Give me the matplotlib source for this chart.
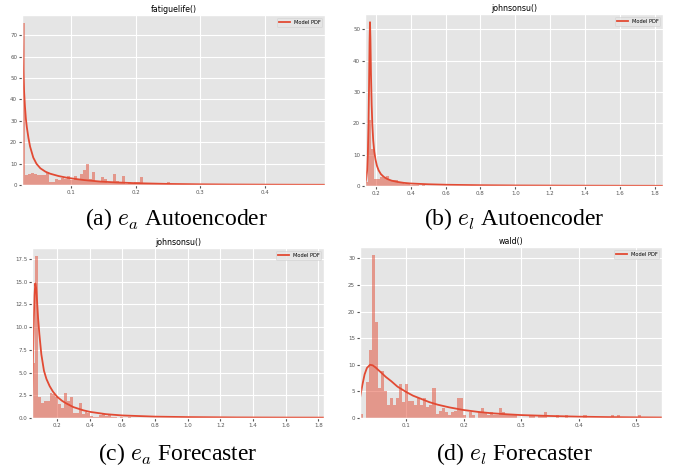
import matplotlib
matplotlib.use('Agg')
import matplotlib.pyplot as plt
import numpy as np

# ---- (a) e_a autoencoder : fatiguelife fit ----
a_range = (0.0235, 0.493)
a_hist = [75.7, 4.5, 5.2, 5.6, 5.2, 4.6, 4.5, 4.5, 6.3, 1.5,
          1.5, 3.0, 2.5, 3.5, 2.6, 4.3, 2.5, 4.2, 2.5, 5.2,
          7.0, 10.0, 3.0, 6.3, 1.2, 1.5, 3.8, 3.0, 1.0, 0.8,
          5.0, 2.0, 1.3, 4.2, 0.5, 1.3, 0.8, 1.3, 1.3, 3.7,
          0.3, 0.4, 0.5, 0.3, 0.6, 0.5, 0.8, 0.5, 1.2, 0.6,
          0.3, 0.4, 0.3, 0.2, 0.3, 0.2, 0.0, 0.3, 0.2, 0.3,
          0.0, 0.0, 0.2, 0.0, 0.0, 0.0, 0.0, 0.2, 0.0, 0.0,
          0.0, 0.0, 0.0, 0.0, 0.0, 0.0, 0.0, 0.0, 0.0, 0.0,
          0.0, 0.2, 0.0, 0.0, 0.0, 0.0, 0.0, 0.0, 0.0, 0.0,
          0.0, 0.0, 0.0, 0.0, 0.0, 0.0, 0.0, 0.0, 0.0, 0.2]
a_pdf_x = [0.0235, 0.0245, 0.0255, 0.0265, 0.028, 0.0295, 0.031, 0.0335, 0.036,
           0.041, 0.046, 0.052, 0.06, 0.067, 0.08, 0.093, 0.107, 0.12, 0.145,
           0.17, 0.2, 0.25, 0.3, 0.35, 0.4, 0.45, 0.493]
a_pdf_y = [72, 60, 51, 45, 37, 31, 27, 22, 18,
           12.8, 9.9, 7.8, 6.2, 5.3, 4.2, 3.4, 2.8, 2.3, 1.6,
           1.2, 0.85, 0.5, 0.32, 0.22, 0.16, 0.12, 0.1]

# ---- (b) e_l autoencoder : johnsonsu fit ----
b_range = (0.1368, 1.848)
b_hist = [1.2, 21.0, 11.8, 2.3, 2.3, 3.0, 2.4, 3.3, 1.9, 1.9,
          2.0, 0.8, 0.8, 0.6, 0.6, 0.4, 0.25, 0.2, 0.15, 0.2,
          0.1, 0.1, 0.15, 0.1, 0.05, 0.1, 0.05, 0.05, 0.0, 0.05,
          0.05, 0.0, 0.05, 0.0, 0.05, 0.0, 0.0, 0.05, 0.0, 0.0,
          0.05, 0.0, 0.0, 0.0, 0.05, 0.0, 0.0, 0.0, 0.0, 0.05,
          0.0, 0.0, 0.0, 0.05, 0.0, 0.0, 0.0, 0.0, 0.0, 0.0,
          0.05, 0.0, 0.0, 0.0, 0.0, 0.0, 0.0, 0.0, 0.05, 0.0,
          0.0, 0.0, 0.0, 0.0, 0.0, 0.0, 0.0, 0.0, 0.0, 0.0,
          0.0, 0.0, 0.05, 0.0, 0.0, 0.0, 0.0, 0.0, 0.0, 0.0,
          0.0, 0.0, 0.0, 0.0, 0.0, 0.0, 0.0, 0.0, 0.0, 0.05]
b_pdf_x = [0.1368, 0.143, 0.149, 0.153, 0.157, 0.160, 0.163, 0.1655, 0.168,
           0.171, 0.175, 0.179, 0.184, 0.19, 0.197, 0.205, 0.215, 0.228, 0.245,
           0.266, 0.29, 0.324, 0.36, 0.4, 0.5, 0.6, 0.8, 1.0, 1.3, 1.6, 1.848]
b_pdf_y = [0.5, 2, 5, 10, 20, 32, 46, 52.3, 47,
           36, 26, 19.5, 14.5, 11, 8.5, 6.5, 5, 3.8, 2.9,
           2.2, 1.7, 1.3, 1.0, 0.8, 0.55, 0.4, 0.25, 0.17, 0.11, 0.08, 0.06]

# ---- (c) e_a forecaster : johnsonsu fit ----
c_range = (0.0468, 1.835)
c_hist = [6.0, 17.8, 2.3, 1.7, 1.9, 1.9, 2.8, 2.6, 2.3, 1.5,
          1.1, 2.7, 1.9, 2.3, 0.5, 0.5, 1.7, 0.4, 0.7, 0.6,
          0.2, 0.1, 0.1, 0.3, 0.4, 0.2, 0.4, 0.1, 0.1, 0.05,
          0.1, 0.05, 0.05, 0.1, 0.0, 0.05, 0.0, 0.05, 0.05, 0.05,
          0.0, 0.05, 0.05, 0.0, 0.0, 0.0, 0.0, 0.0, 0.0, 0.0,
          0.0, 0.0, 0.0, 0.0, 0.0, 0.0, 0.0, 0.0, 0.0, 0.0,
          0.0, 0.0, 0.0, 0.0, 0.0, 0.0, 0.0, 0.0, 0.0, 0.0,
          0.0, 0.0, 0.0, 0.0, 0.0, 0.0, 0.0, 0.0, 0.0, 0.0,
          0.0, 0.0, 0.0, 0.0, 0.0, 0.0, 0.0, 0.0, 0.0, 0.0,
          0.0, 0.0, 0.0, 0.0, 0.0, 0.0, 0.0, 0.0, 0.0, 0.05]
c_pdf_x = [0.0468, 0.049, 0.052, 0.055, 0.058, 0.062, 0.067, 0.072, 0.078,
           0.084, 0.092, 0.104, 0.12, 0.135, 0.155, 0.175, 0.2, 0.23, 0.257,
           0.3, 0.36, 0.4, 0.5, 0.6, 0.8, 1.0, 1.3, 1.6, 1.835]
c_pdf_y = [1.5, 3, 5.5, 8.5, 11, 13.5, 14.8, 14.3, 12.8,
           11, 9.2, 7.0, 5.2, 4.3, 3.5, 2.9, 2.35, 1.9, 1.6,
           1.2, 0.85, 0.68, 0.42, 0.28, 0.15, 0.1, 0.06, 0.045, 0.04]

# ---- (d) e_l forecaster : wald fit ----
d_range = (0.02, 0.5446)
d_hist = [0.7, 0.0, 6.8, 12.8, 30.6, 18.1, 5.6, 8.9, 5.0, 2.4,
          3.7, 2.4, 3.7, 6.3, 3.1, 6.3, 3.2, 3.2, 2.4, 3.7,
          2.5, 3.7, 2.0, 2.5, 5.6, 0.8, 1.4, 1.8, 1.1, 0.6,
          1.1, 1.4, 3.7, 3.7, 0.6, 0.0, 1.2, 0.6, 0.0, 1.2,
          1.9, 1.2, 0.6, 1.2, 0.6, 0.6, 1.9, 1.2, 0.6, 0.6,
          0.6, 0.6, 0.0, 0.0, 0.0, 0.0, 0.6, 0.6, 0.0, 0.6,
          0.6, 1.2, 0.0, 0.0, 0.0, 0.6, 0.0, 0.0, 0.6, 0.0,
          0.0, 0.0, 0.0, 0.0, 0.6, 0.0, 0.0, 0.0, 0.0, 0.0,
          0.0, 0.0, 0.0, 0.6, 0.0, 0.6, 0.0, 0.0, 0.0, 0.0,
          0.0, 0.0, 0.6, 0.0, 0.0, 0.0, 0.0, 0.0, 0.0, 0.0]
d_pdf_x = [0.02, 0.0241, 0.028, 0.032, 0.0374, 0.042, 0.047, 0.052, 0.0571,
           0.065, 0.0745, 0.085, 0.1, 0.112, 0.126, 0.14, 0.155, 0.175, 0.2,
           0.225, 0.2478, 0.275, 0.3, 0.35, 0.4, 0.45, 0.5, 0.5446]
d_pdf_y = [3.75, 6.2, 8.2, 9.4, 10.0, 9.9, 9.5, 9.0, 8.5,
           7.7, 6.9, 5.9, 4.9, 4.2, 3.6, 3.0, 2.5, 2.0, 1.5,
           1.15, 0.9, 0.7, 0.55, 0.38, 0.25, 0.17, 0.12, 0.09]

titles = ['fatiguelife()', 'johnsonsu()', 'johnsonsu()', 'wald()']
captions = ['(a) $e_a$ Autoencoder', '(b) $e_l$ Autoencoder',
            '(c) $e_a$ Forecaster', '(d) $e_l$ Forecaster']
xticks = [[0.1, 0.2, 0.3, 0.4],
          [0.2, 0.4, 0.6, 0.8, 1.0, 1.2, 1.4, 1.6, 1.8],
          [0.2, 0.4, 0.6, 0.8, 1.0, 1.2, 1.4, 1.6, 1.8],
          [0.1, 0.2, 0.3, 0.4, 0.5]]
yticks = [[0, 10, 20, 30, 40, 50, 60, 70],
          [0, 10, 20, 30, 40, 50],
          [0.0, 2.5, 5.0, 7.5, 10.0, 12.5, 15.0, 17.5],
          [0, 5, 10, 15, 20, 25, 30]]

plt.style.use('ggplot')
plt.rcParams['mathtext.fontset'] = 'cm'

W, H = 676, 470
fig = plt.figure(figsize=(W / 100, H / 100), dpi=100)

# axes boxes in pixels: left, top, right, bottom
boxes = [(22, 15, 325, 185), (365, 14, 663, 186),
         (32, 248, 324, 418), (360, 247, 662, 418)]
caption_pos = [(177, 219), (514, 219), (178, 454), (514, 454)]

panels = [(a_range, a_hist, a_pdf_x, a_pdf_y),
          (b_range, b_hist, b_pdf_x, b_pdf_y),
          (c_range, c_hist, c_pdf_x, c_pdf_y),
          (d_range, d_hist, d_pdf_x, d_pdf_y)]


def draw_panel(ax, rng, hist, px, py, title, xt, yt):
    edges = np.linspace(rng[0], rng[1], len(hist) + 1)
    ax.bar(edges[:-1], hist, width=np.diff(edges), align='edge',
           color='#E24A33', alpha=0.5, linewidth=0)
    ax.plot(px, py, color='#E24A33', lw=1.3, label='Model PDF')
    ax.set_xlim(rng)
    ax.set_ylim(0, 1.05 * max(max(hist), max(py)))
    ax.set_xticks(xt)
    ax.set_yticks(yt)
    ax.tick_params(labelsize=4, length=2, pad=1.5, colors='#555555')
    ax.set_title(title, fontsize=5.7, pad=2.5)
    leg = ax.legend(loc='upper right', fontsize=3.7)
    leg.get_frame().set_linewidth(0.4)


for i, (rng, hist, px, py) in enumerate(panels):
    l, t, r, b = boxes[i]
    ax = fig.add_axes([l / W, 1 - b / H, (r - l) / W, (b - t) / H])
    draw_panel(ax, rng, hist, px, py, titles[i], xticks[i], yticks[i])
    cx, cy = caption_pos[i]
    fig.text(cx / W, 1 - cy / H, captions[i], ha='center', va='center',
             fontsize=17, family='Liberation Serif', color='black')

fig.savefig('out.png', dpi=100, facecolor='white')
